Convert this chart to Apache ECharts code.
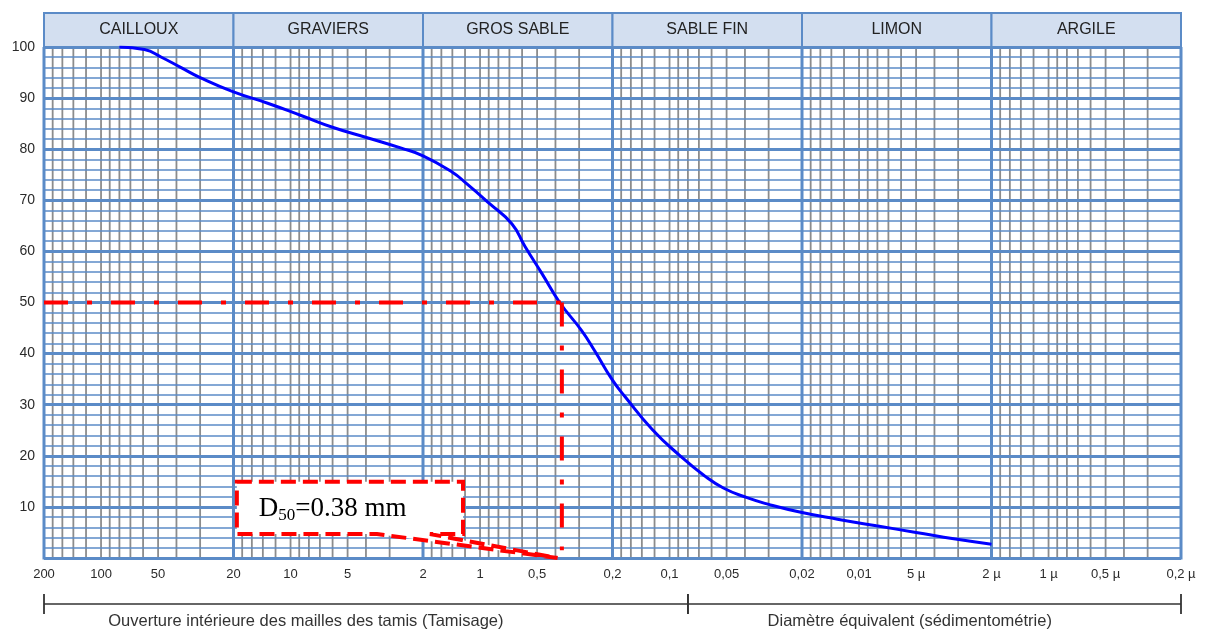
<!DOCTYPE html>
<html><head><meta charset="utf-8">
<script src="https://cdn.jsdelivr.net/npm/echarts@6/dist/echarts.min.js"></script>
<style>html,body{margin:0;padding:0;background:#fff}#chart{width:1215px;height:632px}</style>
</head><body><div id="chart"></div>
<script>
// ---- data ----
const sizesMm = [80, 59, 48, 38, 30, 20, 13.2, 8.8, 5.9, 3.9, 2.6, 2, 1.4, 1.19, 0.9, 0.68, 0.578, 0.472, 0.38, 0.291, 0.248, 0.2, 0.172, 0.123, 0.088, 0.066, 0.052, 0.039, 0.03, 0.02, 0.013, 0.0081, 0.005, 0.0031, 0.002];
const passingPct = [100, 99.5, 98, 96, 94, 91.2, 89, 86.6, 84.2, 82.2, 80.2, 78.7, 75.5, 73.4, 69.5, 65.4, 60.9, 55.7, 50, 44.5, 40.5, 34.8, 31.6, 25.1, 20, 16.2, 13.7, 11.8, 10.5, 8.9, 7.6, 6.3, 5.0, 3.7, 2.7];
const xTickValues = [200, 100, 50, 20, 10, 5, 2, 1, 0.5, 0.2, 0.1, 0.05, 0.02, 0.01, 0.005, 0.002, 0.001, 0.0005, 0.0002];
const xTickLabels = ['200', '100', '50', '20', '10', '5', '2', '1', '0,5', '0,2', '0,1', '0,05', '0,02', '0,01', '5 µ', '2 µ', '1 µ', '0,5 µ', '0,2 µ'];
const classNames = ['CAILLOUX', 'GRAVIERS', 'GROS SABLE', 'SABLE FIN', 'LIMON', 'ARGILE'];
const classBounds = [200, 20, 2, 0.2, 0.02, 0.002, 0.0002];
const minorMultipliers = [1, 1.2, 1.4, 1.6, 1.8, 3, 4, 5, 6, 7, 8, 9];
const methodNames = ['Ouverture intérieure des mailles des tamis (Tamisage)', 'Diamètre équivalent (sédimentométrie)'];
const methodBounds = [200, 0.08, 0.0002];
const methodLabelAt = [8.3, 0.0054];
const d50GuideH = [[200, 50], [0.37, 50]];
const d50GuideV = [[0.37, 50], [0.37, 1.5]];
const calloutBox = [[19.2, 14.9], [1.23, 4.7]];
const calloutBase = [3.5, 1.84];
const calloutTip = [0.39, 0];
const xMin = 0.0002, xMax = 200;

// ---- derived grid line values ----
const minorLines = [];
for (let e = 2; e >= -4; e--) {
  for (const m of minorMultipliers) {
    const v = +(m * Math.pow(10, e)).toPrecision(6);
    if (v > xMin && v < xMax) minorLines.push(v);
  }
}

const BLUE = '#5b8bc7';
const SANS = "'Liberation Sans', Arial, sans-serif";
const SERIF = "'Liberation Serif', 'Times New Roman', serif";
const chart = echarts.init(document.getElementById('chart'));

const logX = (gi) => ({type: 'log', logBase: 10, gridIndex: gi, min: xMin, max: xMax, inverse: true,
  axisLine: {show: false}, axisTick: {show: false}, axisLabel: {show: false}, splitLine: {show: false}});
const unitY = (gi) => ({type: 'value', gridIndex: gi, min: 0, max: 1, show: false, splitLine: {show: false}});
const redDash = {color: '#ff0000', width: 4, type: [24, 19, 5, 19], cap: 'butt'};

chart.setOption({
  animation: false,
  backgroundColor: '#fff',
  grid: [
    {left: 44, right: 34, top: 47, bottom: 74, outerBoundsMode: 'none', containLabel: false},
    {left: 44, right: 34, top: 13, height: 34, outerBoundsMode: 'none', containLabel: false},
    {left: 44, right: 34, top: 594, height: 20, outerBoundsMode: 'none', containLabel: false}
  ],
  xAxis: [logX(0), logX(1), logX(2)],
  yAxis: [
    {type: 'value', gridIndex: 0, min: 0, max: 100, interval: 10, z: 3,
      axisLine: {show: false}, axisTick: {show: false},
      axisLabel: {color: '#2a2a2a', fontSize: 14, fontFamily: SANS, margin: 9,
        formatter: v => v === 0 ? '' : String(v)},
      splitLine: {show: true, lineStyle: {color: BLUE, width: 3}},
      minorTick: {show: false, splitNumber: 5},
      minorSplitLine: {show: true, lineStyle: {color: BLUE, width: 1.6}}},
    unitY(1), unitY(2)
  ],
  series: [
    { // minor vertical grid lines
      type: 'custom', xAxisIndex: 0, yAxisIndex: 0, z: 1, silent: true,
      data: minorLines.map(v => [v, 0]), encode: {x: 0, y: 1},
      renderItem: (params, api) => {
        const p0 = api.coord([api.value(0), 0]), p1 = api.coord([api.value(0), 100]);
        return {type: 'line', shape: {x1: p0[0], y1: p0[1], x2: p1[0], y2: p1[1]},
          style: {stroke: '#8c8c8c', lineWidth: 1.8}};
      }
    },
    { // major vertical grid lines
      type: 'custom', xAxisIndex: 0, yAxisIndex: 0, z: 4, silent: true,
      data: classBounds.map(v => [v, 0]), encode: {x: 0, y: 1},
      renderItem: (params, api) => {
        const p0 = api.coord([api.value(0), 0]), p1 = api.coord([api.value(0), 100]);
        return {type: 'line', shape: {x1: p0[0], y1: p0[1] + 1.5, x2: p1[0], y2: p1[1]},
          style: {stroke: BLUE, lineWidth: 3}};
      }
    },
    { // x tick labels
      type: 'custom', xAxisIndex: 0, yAxisIndex: 0, z: 5, silent: true, clip: false,
      data: xTickValues.map(v => [v, 0]), encode: {x: 0, y: 1},
      renderItem: (params, api) => {
        const p = api.coord([api.value(0), 0]);
        return {type: 'text', x: p[0], y: p[1] + 16,
          style: {text: xTickLabels[params.dataIndex], fill: '#2a2a2a', font: '13px ' + SANS,
            align: 'center', verticalAlign: 'middle', textAlign: 'center', textVerticalAlign: 'middle'}};
      }
    },
    { // grain size curve
      type: 'line', xAxisIndex: 0, yAxisIndex: 0, z: 6,
      data: sizesMm.map((s, i) => [s, passingPct[i]]),
      symbol: 'none', smooth: 0.5,
      lineStyle: {color: '#0000ff', width: 3}
    },
    { // D50 guide, horizontal
      type: 'line', xAxisIndex: 0, yAxisIndex: 0, z: 7,
      data: d50GuideH, symbol: 'none', lineStyle: redDash
    },
    { // D50 guide, vertical
      type: 'line', xAxisIndex: 0, yAxisIndex: 0, z: 7,
      data: d50GuideV, symbol: 'none', lineStyle: redDash
    },
    { // callout
      type: 'custom', xAxisIndex: 0, yAxisIndex: 0, z: 8, silent: true, clip: false,
      data: [[calloutBox[0][0], calloutBox[0][1]]], encode: {x: 0, y: 1},
      renderItem: (params, api) => {
        const tl = api.coord(calloutBox[0]);
        const br = api.coord(calloutBox[1]);
        const ba = api.coord([calloutBase[0], calloutBox[1][1]]);
        const bb = api.coord([calloutBase[1], calloutBox[1][1]]);
        const tip = api.coord(calloutTip);
        const pts = [[tl[0], tl[1]], [br[0], tl[1]], [br[0], br[1]], bb, tip, ba, [tl[0], br[1]]];
        return {type: 'group', children: [
          {type: 'polygon', shape: {points: pts},
            style: {fill: '#fff', stroke: '#ff0000', lineWidth: 4, lineDash: [15, 7]}},
          {type: 'text', x: tl[0] + 22, y: (tl[1] + br[1]) / 2 + 1,
            style: {text: '{a|D}{b|50}{a|=0.38 mm}', fill: '#000',
              align: 'left', verticalAlign: 'middle', textAlign: 'left', textVerticalAlign: 'middle',
              rich: {
                a: {fontSize: 27, fontFamily: SERIF, lineHeight: 30, verticalAlign: 'middle', fill: '#000', color: '#000'},
                b: {fontSize: 17, fontFamily: SERIF, lineHeight: 18, verticalAlign: 'bottom', fill: '#000', color: '#000'}
              }}}
        ]};
      }
    },
    { // header bands
      type: 'custom', xAxisIndex: 1, yAxisIndex: 1, z: 2, silent: true, clip: false,
      data: classNames.map((n, i) => [classBounds[i], classBounds[i + 1], 0]), encode: {x: [0, 1], y: 2},
      renderItem: (params, api) => {
        const a = api.coord([api.value(0), 1]), b = api.coord([api.value(1), 0]);
        const x = Math.min(a[0], b[0]), w = Math.abs(b[0] - a[0]);
        const y = Math.min(a[1], b[1]), h = Math.abs(b[1] - a[1]);
        return {type: 'group', children: [
          {type: 'rect', shape: {x: x, y: y, width: w, height: h},
            style: {fill: '#d3dff0', stroke: BLUE, lineWidth: 2}},
          {type: 'text', x: x + w / 2, y: y + h / 2,
            style: {text: classNames[params.dataIndex], fill: '#222', font: '16px ' + SANS,
              align: 'center', verticalAlign: 'middle', textAlign: 'center', textVerticalAlign: 'middle'}}
        ]};
      }
    },
    { // method bracket
      type: 'custom', xAxisIndex: 2, yAxisIndex: 2, z: 2, silent: true, clip: false,
      data: methodNames.map((n, i) => [methodBounds[i], methodBounds[i + 1], methodLabelAt[i], 0]),
      encode: {x: [0, 1, 2], y: 3},
      renderItem: (params, api) => {
        const a = api.coord([api.value(0), 0.5]), b = api.coord([api.value(1), 0.5]);
        const top = api.coord([api.value(0), 1])[1], bot = api.coord([api.value(0), 0])[1];
        const t = api.coord([api.value(2), 0.5]);
        return {type: 'group', children: [
          {type: 'line', shape: {x1: a[0], y1: a[1], x2: b[0], y2: b[1]}, style: {stroke: '#333', lineWidth: 1.5}},
          {type: 'line', shape: {x1: a[0], y1: top, x2: a[0], y2: bot}, style: {stroke: '#333', lineWidth: 1.8}},
          {type: 'line', shape: {x1: b[0], y1: top, x2: b[0], y2: bot}, style: {stroke: '#333', lineWidth: 1.8}},
          {type: 'text', x: t[0], y: a[1] + 17,
            style: {text: methodNames[params.dataIndex], fill: '#333', font: '16.5px ' + SANS,
              align: 'center', verticalAlign: 'middle', textAlign: 'center', textVerticalAlign: 'middle'}}
        ]};
      }
    }
  ]
});
</script></body></html>
